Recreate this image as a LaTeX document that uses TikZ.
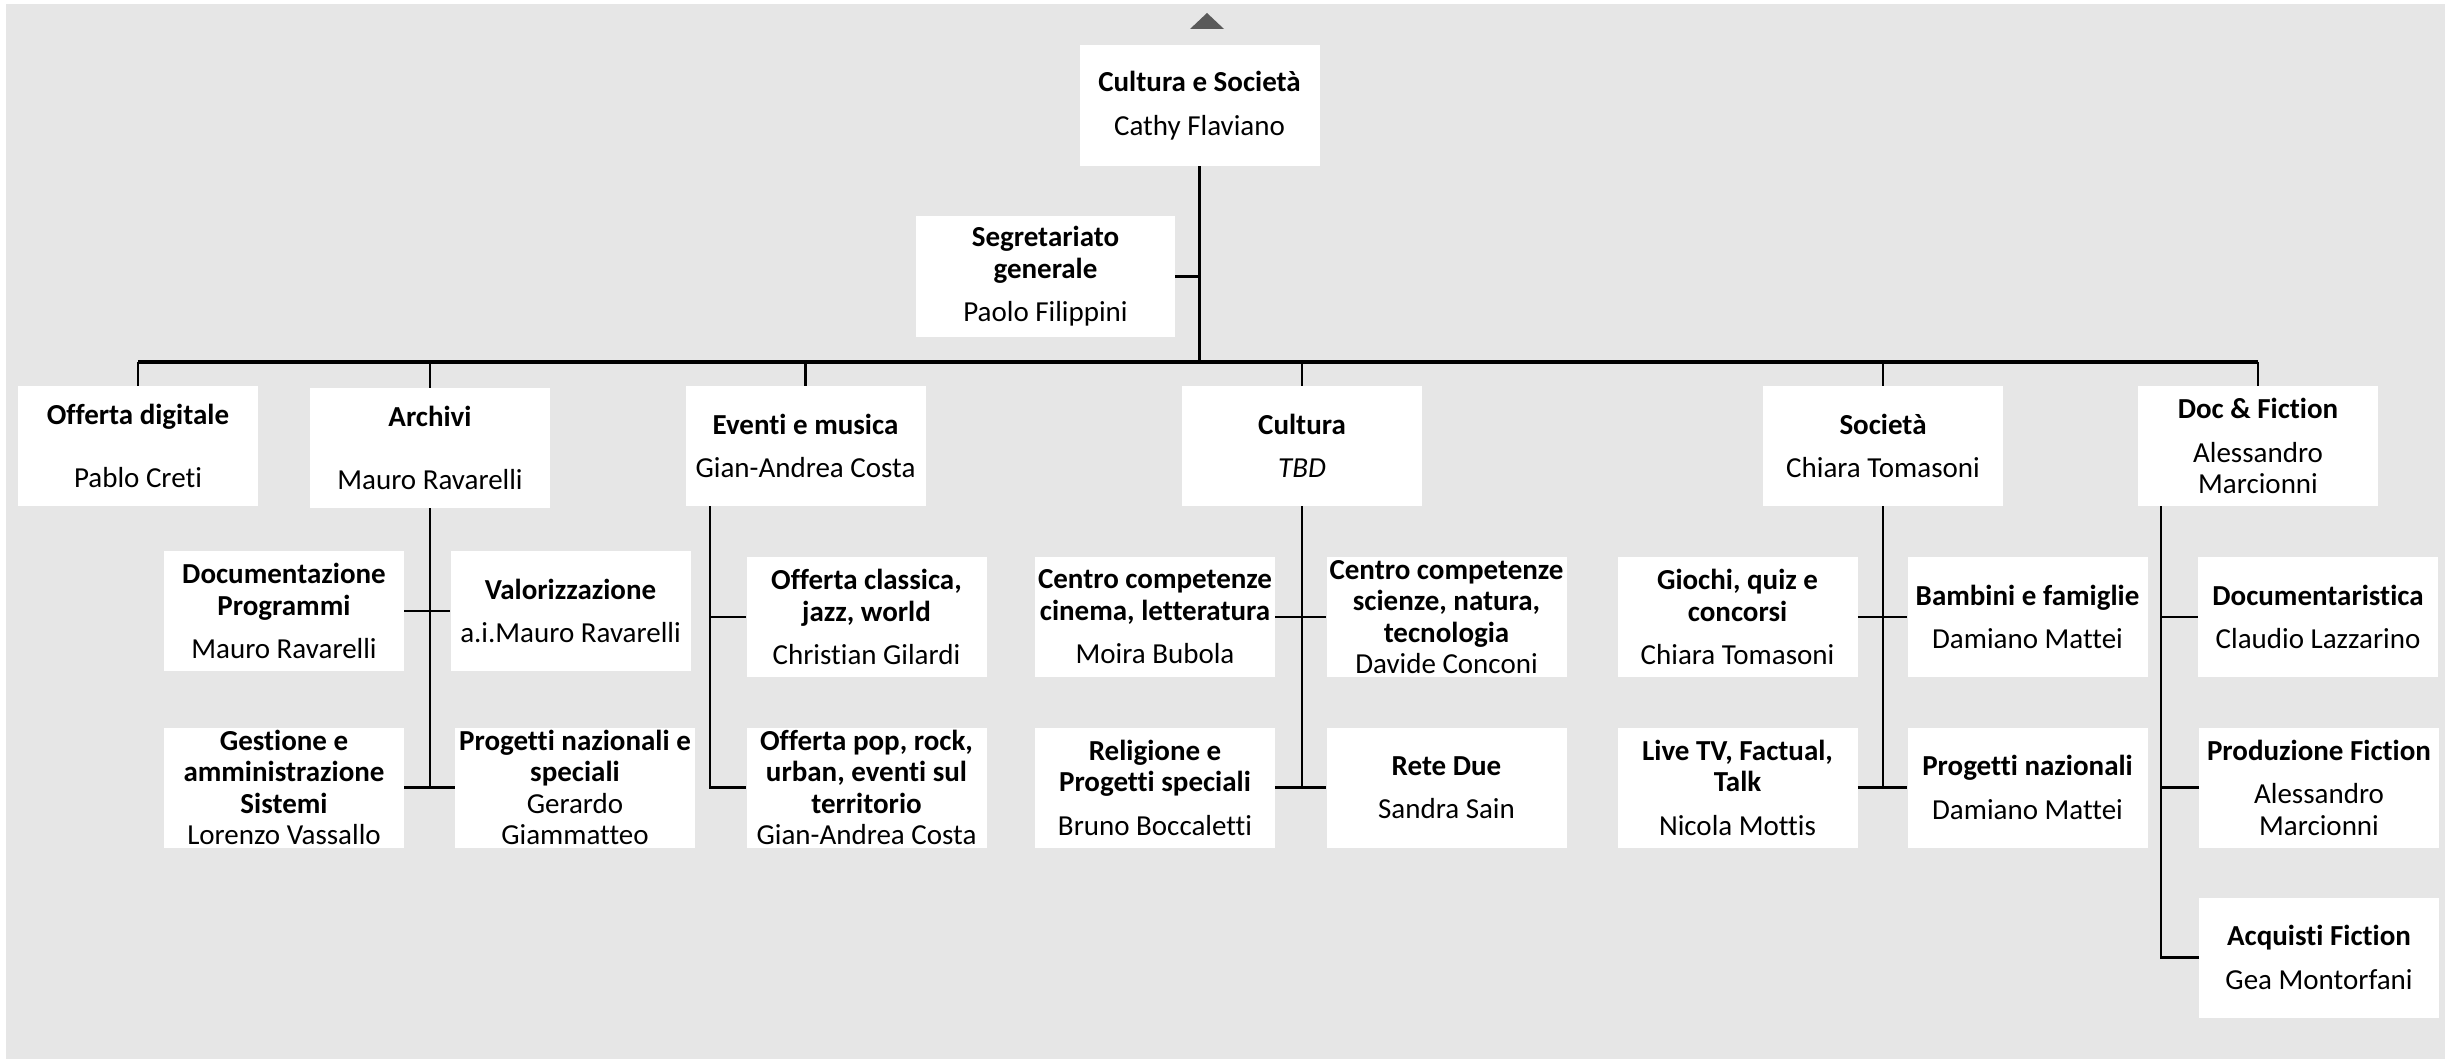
\documentclass[tikz,border=0pt]{standalone}
\usepackage{fontspec}
\setmainfont{Carlito}[Ligatures=CommonOff]
\definecolor{bggray}{HTML}{E6E6E6}
\definecolor{trigray}{HTML}{595959}
\tikzset{
  box/.style={fill=white, inner sep=0pt, minimum width=120pt, minimum height=60pt, align=center,
    font=\fontsize{14.5}{15.75}\selectfont},
  conn/.style={line width=1.35pt, black},
  barline/.style={line width=1.8pt, black}
}
\begin{document}
\begin{tikzpicture}[x=0.5pt,y=-0.5pt]
\path[use as bounding box] (0,0) rectangle (2445,1059);
\fill[bggray] (6,4) rectangle (2445,1059);
\fill[trigray] (1207,13) -- (1224,29) -- (1190,29) -- cycle;

% top level
\node[box, minimum height=60.5pt] (top) at (1199.5,105.5) {\textbf{Cultura e Società}\\[6pt]Cathy Flaviano};
\node[box, minimum width=129.5pt, minimum height=60.5pt] (seg) at (1045.5,276.5) {\textbf{Segretariato}\\\textbf{generale}\\[6pt]Paolo Filippini};

% level 1
\node[box] (od)   at (138,446)    {\textbf{Offerta digitale}\\[15.5pt]Pablo Creti};
\node[box] (arch) at (430,448)    {\textbf{Archivi}\\[15.5pt]Mauro Ravarelli};
\node[box] (ev)   at (805.5,446)  {\textbf{Eventi e musica}\\[6pt]Gian-Andrea Costa};
\node[box] (cul)  at (1302,446)   {\textbf{Cultura}\\[6pt]\textit{TBD}};
\node[box] (soc)  at (1883,446)   {\textbf{Società}\\[6pt]Chiara Tomasoni};
\node[box] (doc)  at (2258,446)   {\textbf{Doc \& Fiction}\\[6pt]Alessandro\\Marcionni};

% level 2, row 1
\node[box] (docprog) at (284,611)    {\textbf{Documentazione}\\\textbf{Programmi}\\[6pt]Mauro Ravarelli};
\node[box] (valor)   at (570.5,611)  {\textbf{Valorizzazione}\\[6pt]a.i.Mauro Ravarelli};
\node[box] (offcl)   at (866.5,617)  {\textbf{Offerta classica,}\\\textbf{jazz, world}\\[6pt]Christian Gilardi};
\node[box] (ccl)     at (1155,617)   {\textbf{Centro competenze}\\\textbf{cinema, letteratura}\\[6pt]Moira Bubola};
\node[box] (ccs)     at (1446.5,617) {\textbf{Centro competenze}\\\textbf{scienze, natura,}\\\textbf{tecnologia}\\Davide Conconi};
\node[box] (gio)     at (1737.5,617) {\textbf{Giochi, quiz e}\\\textbf{concorsi}\\[6pt]Chiara Tomasoni};
\node[box] (bam)     at (2027.5,617) {\textbf{Bambini e famiglie}\\[6pt]Damiano Mattei};
\node[box] (docu)    at (2318,617)   {\textbf{Documentaristica}\\[6pt]Claudio Lazzarino};

% level 2, row 2
\node[box] (gest)   at (284,787.5)    {\textbf{Gestione e}\\\textbf{amministrazione}\\\textbf{Sistemi}\\Lorenzo Vassallo};
\node[box] (prog)   at (575,787.5)    {\textbf{Progetti nazionali e}\\\textbf{speciali}\\Gerardo\\Giammatteo};
\node[box] (offpop) at (866.5,787.5)  {\textbf{Offerta pop, rock,}\\\textbf{urban, eventi sul}\\\textbf{territorio}\\Gian-Andrea Costa};
\node[box] (rel)    at (1155,787.5)   {\textbf{Religione e}\\\textbf{Progetti speciali}\\[6pt]Bruno Boccaletti};
\node[box] (rete)   at (1446.5,787.5) {\textbf{Rete Due}\\[6pt]Sandra Sain};
\node[box] (live)   at (1737.5,787.5) {\textbf{Live TV, Factual,}\\\textbf{Talk}\\[6pt]Nicola Mottis};
\node[box] (pn)     at (2027.5,787.5) {\textbf{Progetti nazionali}\\[6pt]Damiano Mattei};
\node[box] (prodf)  at (2319,787.5)   {\textbf{Produzione Fiction}\\[6pt]Alessandro\\Marcionni};
\node[box] (acq)    at (2319,957.5)   {\textbf{Acquisti Fiction}\\[6pt]Gea Montorfani};

% connectors
\coordinate (bar) at (1199.5,362);
\coordinate (evx) at (710,506);
\coordinate (docx) at (2161,506);

\draw[conn] (top.south) -- (bar);
\draw[conn] (seg.east) -- (seg.east -| top.south);
\draw[barline] (od.north |- bar) -- (doc.north |- bar);
\foreach \n in {od,arch,ev,cul,soc,doc}
  \draw[conn] (\n.north) -- (\n.north |- bar);

% Archivi
\draw[conn] (arch.south) -- (arch.south |- gest.east);
\draw[conn] (docprog.east) -- (valor.west);
\draw[conn] (gest.east) -- (prog.west);

% Eventi
\draw[conn] (evx) |- (offpop.west);
\draw[conn] (offcl.west) -- (offcl.west -| evx);

% Cultura
\draw[conn] (cul.south) -- (cul.south |- rel.east);
\draw[conn] (ccl.east) -- (ccs.west);
\draw[conn] (rel.east) -- (rete.west);

% Societa
\draw[conn] (soc.south) -- (soc.south |- live.east);
\draw[conn] (gio.east) -- (bam.west);
\draw[conn] (live.east) -- (pn.west);

% Doc & Fiction
\draw[conn] (docx) |- (acq.west);
\draw[conn] (docu.west) -- (docu.west -| docx);
\draw[conn] (prodf.west) -- (prodf.west -| docx);
\end{tikzpicture}
\end{document}
